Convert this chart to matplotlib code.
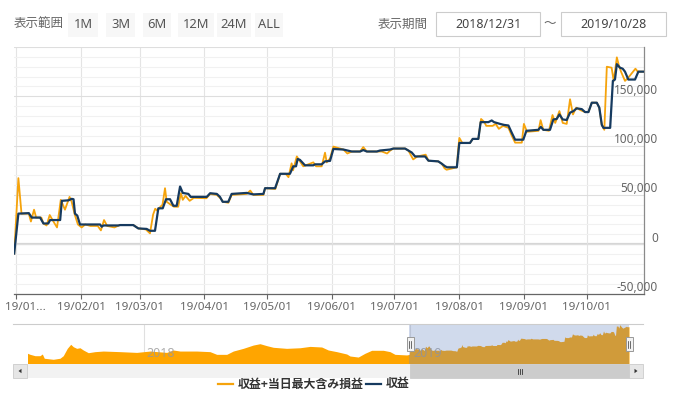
import matplotlib
matplotlib.use('Agg')
import matplotlib.pyplot as plt
import matplotlib.transforms as mtransforms
from matplotlib.patches import Rectangle, Polygon
import datetime as dt

plt.rcParams['font.family'] = ['Noto Sans CJK JP', 'DejaVu Sans']

# ---------------- data ----------------
BASE = dt.date(2018, 12, 31)          # x = days since this date

# 収益 (profit)
profit_days = [0, 2, 7, 8.4, 12.4, 14, 16.3, 17.2, 22, 22.8, 26, 27.5, 28.4, 29.1, 30.2, 31.5,
               41.1, 41.9, 42.7, 49.9, 50.7, 57, 59.4, 63.4, 65, 67.4, 69, 71.1, 72.7, 74.6,
               76.2, 77.8, 79.4, 80.7, 83.4, 84.5, 92.2, 93.8, 97, 98.5, 99.8, 102.5, 104.1,
               111.3, 114.5, 119.3, 120.1, 124.9, 127.3, 132, 133.6, 134.9, 135.7, 136.8, 139.2,
               143.2, 144, 147.2, 148.8, 151.2, 152.8, 157.6, 161.6, 165.6, 167.1, 168.8, 173.6,
               175.1, 179.9, 181.5, 187.1, 188.7, 190.3, 191.9, 196.7, 198.3, 203, 204.7, 206.3,
               207.2, 211.9, 213.1, 218.2, 219.5, 222.2, 223.3, 227, 228.6, 229.7, 232.6, 234.5,
               236.6, 238.2, 239.8, 243.7, 245.2, 250.9, 252.1, 253.3, 256.5, 258.1, 259.7, 261,
               262.6, 264.5, 266.1, 267.7, 269.3, 271.7, 273.3, 274.9, 276.5, 278.9, 280.1, 281.3,
               282.1, 285.3, 286.6, 287.6, 288.5, 290, 291.3, 292.4, 294, 297.2, 298.8, 301]
profit_vals = [-9500, 31000, 31500, 27000, 27000, 21000, 21000, 24500, 24500, 44000, 44500, 46000,
               45600, 31000, 29000, 20000, 20000, 17700, 19000, 19000, 19400, 19400, 16000, 15500,
               13600, 13600, 36400, 36400, 45600, 45600, 39000, 39000, 58500, 52000, 51000, 48000,
               48000, 51700, 51000, 48000, 43000, 43000, 51000, 52000, 50500, 51000, 56800, 56800,
               71400, 71400, 79000, 79000, 86400, 85500, 80000, 80000, 81000, 81000, 84000, 84500,
               96600, 96000, 94000, 94000, 95500, 94000, 94000, 95000, 96000, 97000, 97000, 95000,
               93000, 89000, 89000, 84700, 84000, 81600, 79000, 78000, 78000, 102700, 102700,
               106800, 106800, 123800, 123800, 125500, 123800, 122000, 121000, 120400, 113000,
               106000, 106000, 115000, 116000, 119000, 116000, 116000, 126500, 127000, 131600,
               126500, 126000, 133400, 135000, 137800, 137000, 134000, 134000, 143500, 143500,
               138500, 121000, 118000, 118000, 165600, 167000, 182600, 179000, 178000, 175000,
               167000, 167000, 175000, 175000]

# 収益+当日最大含み損益 (profit incl. max unrealized P/L of the day)
combined_days = [0, 2, 3.5, 7, 8, 9.5, 10.5, 13, 14, 15.5, 17, 18.5, 20.5, 22.3, 24.3, 25.5, 26.5,
                 27.5, 29, 30.5, 32.3, 34, 36.5, 40, 41.5, 43, 44.5, 48, 50.5, 57, 59.5, 63, 65,
                 66.5, 67.5, 68.5, 70, 71, 72.2, 73, 75, 76.5, 78.5, 79.8, 80.7, 82, 84, 86, 92,
                 93.8, 97, 99, 100, 102.5, 104.1, 111.3, 113, 114.5, 119.3, 120.1, 125, 127.3, 130,
                 131.3, 132.8, 133.5, 135.3, 136.8, 138.4, 143.2, 144.5, 147.2, 148.8, 149.6, 151.2,
                 152.8, 157.6, 159.5, 161.6, 165.6, 167.1, 168.8, 173.6, 176, 178.5, 180, 181.5,
                 187.1, 188.7, 191, 193, 197, 198.3, 203, 204.7, 206, 207, 211.9, 212.5, 213.1,
                 214.5, 218.2, 219.5, 222.2, 223.5, 225, 226, 229, 230.5, 232, 234, 236.6, 238.2,
                 239.8, 243, 244, 245.5, 251, 252, 253.3, 256, 257.7, 259, 261, 262.6, 264.5, 266.1,
                 267.5, 269, 271, 273.3, 274.9, 276.5, 278.9, 280.1, 281.3, 282.5, 283.7, 286, 287,
                 288.5, 289.5, 290.5, 292.4, 294, 297.4, 298.5, 301]
combined_vals = [-9500, 67000, 31000, 31000, 23000, 35000, 27000, 27000, 21000, 19000, 29600, 24000,
                 17000, 45000, 35000, 42000, 48000, 43000, 30000, 20000, 17000, 20000, 18500, 18500,
                 14000, 24500, 18500, 17000, 19400, 19400, 16000, 15000, 11000, 30000, 36000, 34000,
                 38000, 40000, 56800, 43000, 40000, 38000, 38000, 51700, 45000, 49000, 44000, 47000,
                 46600, 51000, 50000, 46000, 43000, 42000, 50000, 51000, 54400, 50000, 50000, 56800,
                 56000, 71400, 71400, 68000, 82000, 75000, 89000, 84000, 79000, 83000, 79000, 79000,
                 92800, 83000, 87000, 99000, 96000, 92000, 94000, 94000, 98500, 94000, 94000, 94000,
                 92000, 95000, 97000, 97000, 95000, 86000, 89000, 90800, 84700, 84000, 81600, 77000,
                 75500, 78000, 95000, 107800, 102700, 102700, 106800, 106800, 127000, 124000, 120000,
                 120000, 122000, 117000, 120000, 118000, 110000, 103000, 103000, 122000, 114000,
                 115000, 125800, 116000, 115000, 131000, 123000, 135000, 123000, 122000, 147000,
                 131600, 138500, 136000, 134000, 134000, 143500, 143500, 138500, 121000, 116000,
                 180000, 179000, 165600, 189500, 181000, 175000, 165600, 169000, 178000, 175000,
                 175000]

# navigator history before the displayed period (days since BASE)
nav_hist_days = [-523, -519.6, -512.7, -505.9, -502.7, -500, -487.7, -478.5, -474, -468.5, -463.8,
                 -460.3, -455.6, -451.1, -446.6, -439.7, -430.5, -419.2, -396.3, -373.4, -355.2,
                 -332.3, -323.3, -314.1, -291.2, -273, -263.8, -250.1, -241.1, -227.4, -213.7,
                 -204.5, -195.3, -186.3, -168, -149.7, -136, -120, -111, -99.4, -85.7, -81.2,
                 -69.9, -60.7, -51.5, -35.6, -26.4, -19.6, -3.5]
nav_hist_vals = [-2000, -8700, -18000, -18000, -6700, -35000, -42000, -35000, -18000, 31000, 58000,
                 42000, 31000, 35000, 20000, 2000, 9000, 13000, 9000, 4000, 13000, 4000, 20000, 13000,
                 13000, 9000, -9000, -9000, 13000, 31000, 53000, 62000, 49000, 38000, 31000, 35000,
                 44000, 40000, 20000, 9000, -6700, -20000, -27000, -2000, 18000, 18000, 9000, -9000,
                 -13000]

month_ticks = ['2019-01-01', '2019-02-01', '2019-03-01', '2019-04-01', '2019-05-01',
               '2019-06-01', '2019-07-01', '2019-08-01', '2019-09-01', '2019-10-01']
month_labels = ['19/01...', '19/02/01', '19/03/01', '19/04/01', '19/05/01',
                '19/06/01', '19/07/01', '19/08/01', '19/09/01', '19/10/01']
y_ticks = [-50000, 0, 50000, 100000, 150000]
y_labels = ['-50,000', '0', '50,000', '100,000', '150,000']
nav_year_ticks = ['2018-01-01', '2019-01-01']
nav_year_labels = ['2018', '2019']
range_buttons = ['1M', '3M', '6M', '12M', '24M', 'ALL']
period_from, period_to = '2018/12/31', '2019/10/28'
series_names = ['収益+当日最大含み損益', '収益']


def day_of(s):
    return (dt.date.fromisoformat(s) - BASE).days


ORANGE = '#F5A30C'
NAVY = '#163A5F'
NAVFILL = '#FFA500'
GREY_TXT = '#666666'

W, H = 682, 399
fig = plt.figure(figsize=(W / 100, H / 100), dpi=100)
fig.patch.set_facecolor('white')

# ---------------- main chart ----------------
L, R, T, B = 14.2, 644.0, 47.0, 293.5
ax = fig.add_axes([L / W, 1 - B / H, (R - L) / W, (B - T) / H])
ax.set_xlim(0, 301.5)
ax.set_ylim(-50000, 200000)
ax.set_facecolor('white')

ax.set_yticks(range(-50000, 200001, 50000))
ax.set_yticks(range(-50000, 200001, 10000), minor=True)
ax.grid(which='minor', axis='y', color='#f1f1f1', lw=0.8, zorder=0)
ax.grid(which='major', axis='y', color='#dedede', lw=0.8, zorder=0)
ax.axhline(0, color='#d6d6d6', lw=1.6, zorder=0.5)
ax.tick_params(axis='y', which='both', length=0, labelleft=False, labelright=False)

tick_days = [day_of(s) for s in month_ticks]
ax.set_xticks(tick_days)
ax.set_xticklabels([''] + month_labels[1:])
ax.grid(axis='x', color='#e4e4e4', lw=0.8, zorder=0)
ax.tick_params(axis='x', direction='out', length=3.8, width=0.8, color='#666666',
               labelcolor=GREY_TXT, labelsize=8.4, pad=2.5)
for lab in ax.get_xticklabels():
    lab.set_family(['Noto Sans', 'DejaVu Sans'])
fig.text(5 / W, 1 - 308 / H, month_labels[0], ha='left', va='center', color=GREY_TXT,
         fontsize=8.4, family=['Noto Sans', 'DejaVu Sans'])

for s in ['top', 'left']:
    ax.spines[s].set_visible(False)
ax.spines['right'].set_color('#8a8a8a')
ax.spines['right'].set_linewidth(0.9)
ax.spines['bottom'].set_color('#666666')
ax.spines['bottom'].set_linewidth(0.9)

ax.plot(combined_days, combined_vals, color=ORANGE, lw=1.3, zorder=3, solid_joinstyle='round')
ax.plot(profit_days, profit_vals, color=NAVY, lw=1.6, zorder=4, solid_joinstyle='round')

trans = mtransforms.blended_transform_factory(ax.transAxes, ax.transData)
trans = mtransforms.offset_copy(trans, fig=fig, x=0, y=6 * 0.72, units='points')
for v, s in zip(y_ticks, y_labels):
    ax.text(1 + 14.0 / (R - L), v, s, transform=trans, ha='right', va='center',
            color=GREY_TXT, fontsize=8.5, family=['Noto Sans', 'DejaVu Sans'], clip_on=False)

# ---------------- navigator ----------------
NL, NR, NT, NB = 27.5, 629.0, 324.0, 364.0
nav = fig.add_axes([NL / W, 1 - NB / H, (NR - NL) / W, (NB - NT) / H])
nav.set_xlim(-523, 301)
NYMIN, NYMAX = -73300, 193300
nav.set_ylim(NYMIN, NYMAX)
nav.axis('off')
nav_days = nav_hist_days + combined_days
nav_vals = nav_hist_vals + combined_vals
for s in nav_year_ticks:
    nav.axvline(day_of(s), color='#e0e0e0', lw=0.8, zorder=0)
nav.fill_between(nav_days, nav_vals, NYMIN, color=NAVFILL, lw=0, zorder=1)
ytr = mtransforms.blended_transform_factory(nav.transData, nav.transAxes)
ytr = mtransforms.offset_copy(ytr, fig=fig, x=3 * 0.72, y=0, units='points')
for s, lab in zip(nav_year_ticks, nav_year_labels):
    nav.text(day_of(s), 0.27, lab, transform=ytr, ha='left', va='center',
             color='#999999', alpha=0.8, fontsize=9, family=['Noto Sans', 'DejaVu Sans'], zorder=2)
nav.axvspan(0, 301, color=(102 / 255, 133 / 255, 194 / 255), alpha=0.3, lw=0, zorder=3)

# ---------------- overlay (UI elements) ----------------
ov = fig.add_axes([0, 0, 1, 1])
ov.set_xlim(0, W)
ov.set_ylim(H, 0)
ov.axis('off')
ov.patch.set_alpha(0)

# navigator outline
ov.plot([13, 643], [324, 324], color='#cccccc', lw=0.8)

# scrollbar
ov.add_patch(Rectangle((13, 364), 630, 14, fc='#f2f2f2', ec='none'))
ov.add_patch(Rectangle((410, 364), 219, 14, fc='#cccccc', ec='#cccccc', lw=0.6))
for gx in (517.5, 519.5, 521.5):
    ov.plot([gx, gx], [368.5, 373.5], color='#333333', lw=0.6)
ov.add_patch(Rectangle((13, 364), 14, 14, fc='#e6e6e6', ec='#cccccc', lw=0.6))
ov.add_patch(Polygon([[18.5, 371], [21.5, 368.8], [21.5, 373.2]], closed=True, fc='#333333', ec='none'))
ov.add_patch(Rectangle((629, 364), 14, 14, fc='#e6e6e6', ec='#cccccc', lw=0.6))
ov.add_patch(Polygon([[637.5, 371], [634.5, 368.8], [634.5, 373.2]], closed=True, fc='#333333', ec='none'))

# handles
for hx in (410, 629):
    ov.add_patch(Rectangle((hx - 3.5, 337), 7, 14, fc='#f2f2f2', ec='#999999', lw=0.7, zorder=5))
    for dx in (-1, 1):
        ov.plot([hx + dx, hx + dx], [340.5, 347.5], color='#333333', lw=0.5, zorder=6)

# legend
ov.plot([218, 233], [384, 384], color=ORANGE, lw=1.6)
ov.text(238, 384, series_names[0], ha='left', va='center', color='#333333', fontsize=8.6,
        fontweight='bold')
ov.plot([366, 381], [384, 384], color=NAVY, lw=1.6)
ov.text(386, 384, series_names[1], ha='left', va='center', color='#333333', fontsize=8.6,
        fontweight='bold')

# range selector
ov.text(14, 24, '表示範囲', ha='left', va='center', color=GREY_TXT, fontsize=9)
btn_x = [68, 106, 143, 178, 217, 255]
btn_w = [30, 29, 28, 36, 34, 28]
for bx, bw, lab in zip(btn_x, btn_w, range_buttons):
    ov.add_patch(Rectangle((bx, 13), bw, 24, fc='#f7f7f7', ec='none'))
    ov.text(bx + bw / 2, 24.5, lab, ha='center', va='center', color='#555555', fontsize=9.3,
            family=['Noto Sans', 'DejaVu Sans'])
ov.text(378, 24, '表示期間', ha='left', va='center', color=GREY_TXT, fontsize=9)
ov.add_patch(Rectangle((436, 12), 104, 24, fc='white', ec='#cccccc', lw=0.8))
ov.text(488, 24, period_from, ha='center', va='center', color='#444444', fontsize=9,
        family=['Noto Sans', 'DejaVu Sans'])
ov.text(550, 24, '～', ha='center', va='center', color=GREY_TXT, fontsize=9)
ov.add_patch(Rectangle((561, 12), 105, 24, fc='white', ec='#cccccc', lw=0.8))
ov.text(613.5, 24, period_to, ha='center', va='center', color='#444444', fontsize=9,
        family=['Noto Sans', 'DejaVu Sans'])

fig.savefig('out.png', dpi=100, facecolor='white')
